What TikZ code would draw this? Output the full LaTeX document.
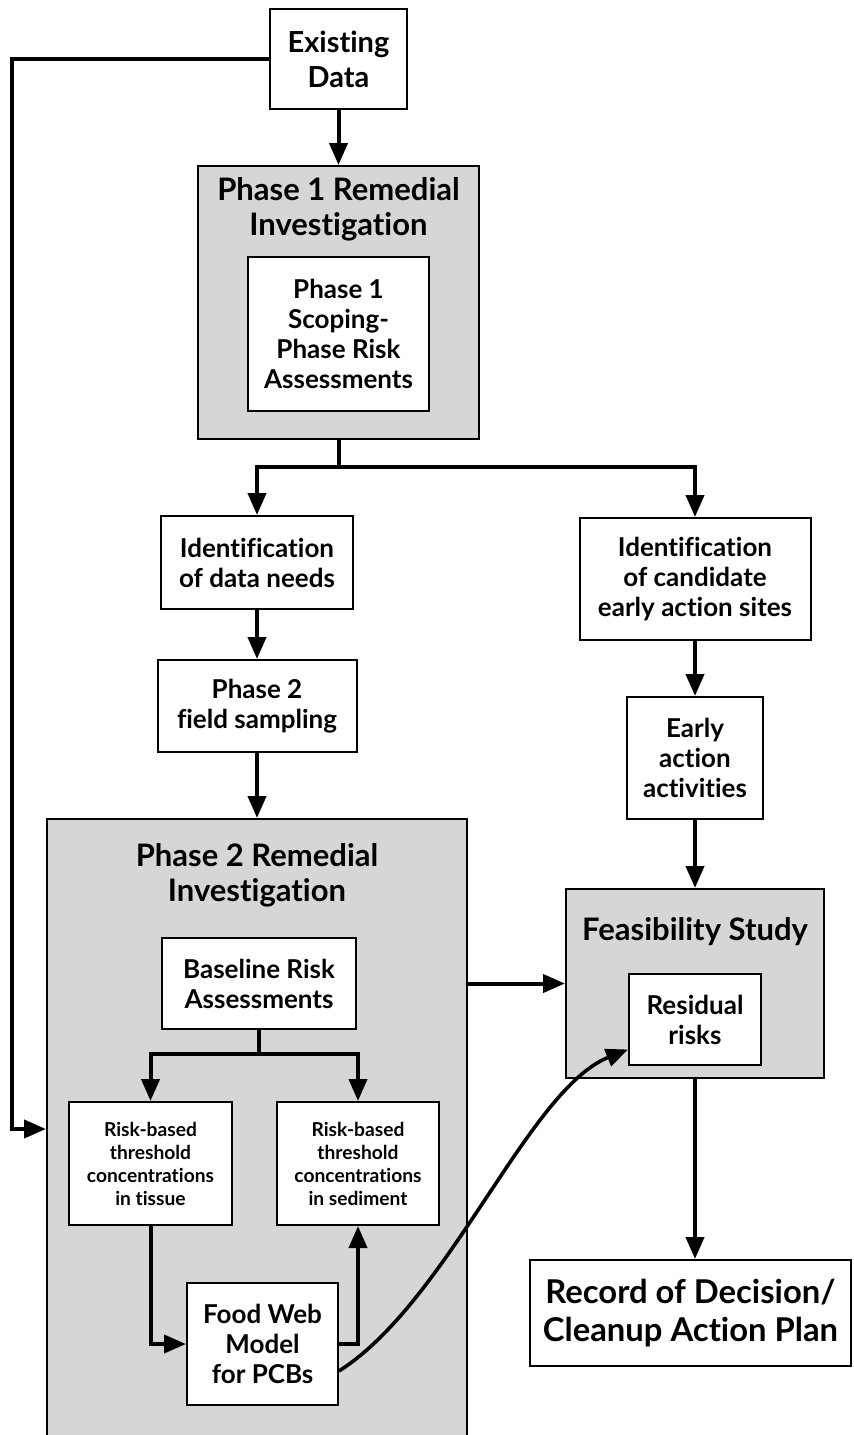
\documentclass[tikz,border=0pt]{standalone}
\usepackage{fontspec}
\setmainfont{Lato}[Ligatures=NoCommon]
\usetikzlibrary{arrows.meta, positioning, calc}
\definecolor{panelgray}{HTML}{D6D6D6}

\begin{document}
\begin{tikzpicture}[
  x=0.5pt, y=-0.5pt,
  box/.style       = {rectangle, draw=black, fill=white, line width=1pt,
                      align=center, inner sep=1pt},
  panel/.style     = {rectangle, draw=black, fill=panelgray, line width=1pt,
                      inner sep=0pt},
  bigtext/.style   = {font=\fontsize{15.5}{17.5}\selectfont\bfseries},
  midtext/.style   = {font=\fontsize{13}{15}\selectfont\bfseries},
  smalltext/.style = {font=\fontsize{9.6}{11.5}\selectfont\bfseries},
  arrow/.style     = {-{Triangle[length=11pt, width=9pt]}, line width=2pt},
  link/.style      = {line width=2pt},
]
\useasboundingbox (0,0) rectangle (853,1435);
\clip (0,0) rectangle (853,1435);

% Panels
\node[panel, minimum width=140.5pt, minimum height=136.5pt] (p1ri) at (338.5,302.5) {};
\node[panel, minimum width=210pt,   minimum height=315.5pt] (p2ri) at (257,1134.5)  {};
\node[panel, minimum width=129pt,   minimum height=94.5pt]  (fs)   at (695,983.5)   {};

% Panel titles
\node[bigtext, align=center] (p1title) at (338.5,209) {Phase 1 Remedial\\Investigation};
\node[bigtext, align=center] (p2title) at (257,875)   {Phase 2 Remedial\\Investigation};
\node[bigtext]               (fstitle) at (695,932)   {Feasibility Study};

% Nodes
\node[box, bigtext, font=\fontsize{14.5}{17.5}\selectfont\bfseries,
      minimum width=68.5pt,  minimum height=50pt]   (exist)     at (338.5,59)     {Existing\\Data};
\node[box, midtext,   minimum width=90.5pt,  minimum height=77pt]   (scoping)   at (338.5,334)    {Phase 1\\Scoping-\\Phase Risk\\Assessments};
\node[box, midtext,   minimum width=96pt,    minimum height=46.5pt] (needs)     at (257,562.5)    {Identification\\of data needs};
\node[box, midtext,   minimum width=99.5pt,  minimum height=46pt]   (sampling)  at (257,706)      {Phase 2\\field sampling};
\node[box, midtext,   minimum width=115.5pt, minimum height=61pt]   (candidate) at (695,579)      {Identification\\of candidate\\early action sites};
\node[box, midtext,   minimum width=68pt,    minimum height=61pt]   (early)     at (695,758)      {Early\\action\\activities};
\node[box, midtext,   minimum width=97pt,    minimum height=45.5pt] (baseline)  at (259,983.5)    {Baseline Risk\\Assessments};
\node[box, smalltext, minimum width=81.5pt,  minimum height=61.5pt] (tissue)    at (150.5,1163.5) {Risk-based\\threshold\\concentrations\\in tissue};
\node[box, smalltext, minimum width=81pt,    minimum height=61.5pt] (sediment)  at (358,1163.5)   {Risk-based\\threshold\\concentrations\\in sediment};
\node[box, midtext,   minimum width=75.5pt,  minimum height=61pt]   (foodweb)   at (262.5,1344)   {Food Web\\Model\\for PCBs};
\node[box, midtext,   minimum width=66pt,    minimum height=45.5pt] (residual)  at (695,1019.5)   {Residual\\risks};
\node[box, font=\fontsize{16.4}{19}\selectfont\bfseries,
      minimum width=160.5pt, minimum height=53pt]                   (record)    at (690.5,1313)   {Record of Decision/\\Cleanup Action Plan};

% Junctions
\coordinate (split1) at (338.5,467);
\coordinate (split2) at (259,1054);
\coordinate (rail)   at (12,1129);

% Arrows
\draw[arrow] (exist) -- (p1ri);
\draw[arrow] (exist.west) -| (rail) -- (rail -| p2ri.west);
\draw[link]  (p1ri.south) -- (split1);
\draw[arrow] (split1) -| (needs.north);
\draw[arrow] (split1) -| (candidate.north);
\draw[arrow] (needs) -- (sampling);
\draw[arrow] (sampling.south) -- (sampling.south |- p2ri.north);
\draw[arrow] (candidate) -- (early);
\draw[arrow] (early) -- (fs);
\draw[link]  (baseline.south) -- (split2);
\draw[arrow] (split2) -| (tissue.north);
\draw[arrow] (split2) -| (sediment.north);
\draw[arrow] (tissue.south) |- (foodweb.west);
\draw[arrow] (foodweb.east) -| (sediment.south);
\draw[arrow] (fs.west -| p2ri.east) -- (fs.west);
\draw[arrow] (fs.south) -- (fs.south |- record.north);
\draw[arrow, line width=1.8pt] ([yshift=-13.5pt]foodweb.east)
  .. controls +(110,-70) and +(-100,40) .. ([yshift=-15pt]residual.west);
\end{tikzpicture}
\end{document}
